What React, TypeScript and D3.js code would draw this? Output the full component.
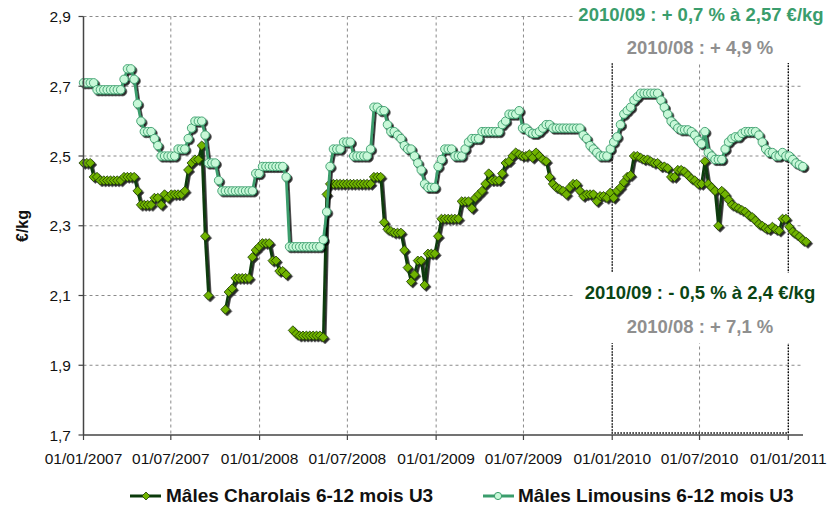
import React from 'react';
import * as d3 from 'd3';

// ---- DATA ----
const startWeek = '2007-01-01';
const seriesNames = ['Mâles Charolais 6-12 mois U3', 'Mâles Limousins 6-12 mois U3'];

// Weekly prices (€/kg), null = missing week
const charolais: (number | null)[] = [
  2.48, 2.48, 2.48, 2.44, 2.44, 2.43, 2.43, 2.43, 2.43, 2.43,
  2.43, 2.43, 2.44, 2.44, 2.44, 2.44, 2.40, 2.36, 2.36, 2.36,
  2.36, 2.38, 2.38, 2.36, 2.39, 2.38, 2.39, 2.39, 2.39, 2.39,
  2.40, 2.46, 2.48, 2.49, 2.49, 2.53, 2.27, 2.10, null, null,
  null, null, 2.06, 2.11, 2.12, 2.15, 2.15, 2.15, 2.15, 2.15,
  2.21, 2.23, 2.24, 2.25, 2.25, 2.25, 2.20, 2.20, 2.17, 2.17,
  2.16, null, 2.00, 1.99, 1.985, 1.985, 1.985, 1.985, 1.985, 1.985,
  1.985, 1.98, 2.39, 2.42, 2.42, 2.42, 2.42, 2.42, 2.42, 2.42,
  2.42, 2.42, 2.42, 2.42, 2.42, 2.42, 2.44, 2.44, 2.44, 2.31,
  2.29, 2.285, 2.28, 2.28, 2.28, 2.23, 2.18, 2.14, 2.16, 2.20,
  2.20, 2.13, 2.22, 2.22, 2.22, 2.27, 2.32, 2.32, 2.32, 2.32,
  2.32, 2.32, 2.37, 2.37, 2.37, 2.35, 2.38, 2.39, 2.40, 2.42,
  2.45, 2.43, 2.43, 2.43, 2.45, 2.48, 2.485, 2.50, 2.51, 2.505,
  2.50, 2.50, 2.505, 2.495, 2.51, 2.50, 2.49, 2.485, 2.44, 2.42,
  2.41, 2.405, 2.40, 2.39, 2.41, 2.42, 2.42, 2.40, 2.385, 2.39,
  2.39, 2.39, 2.37, 2.385, 2.385, 2.38, 2.395, 2.38, 2.40, 2.41,
  2.425, 2.44, 2.445, 2.50, 2.50, 2.495, 2.49, 2.49, 2.485, 2.48,
  2.48, 2.47, 2.47, 2.465, 2.44, 2.44, 2.46, 2.46, 2.455, 2.445,
  2.435, 2.43, 2.42, 2.42, 2.485, 2.42, 2.41, 2.40, 2.30, 2.40,
  2.39, 2.375, 2.36, 2.355, 2.35, 2.345, 2.34, 2.33, 2.325, 2.315,
  2.305, 2.30, 2.293, 2.29, 2.297, 2.29, 2.286, 2.32, 2.32, 2.297,
  2.283, 2.276, 2.269, 2.259, 2.254,
];

const limousin: (number | null)[] = [
  2.71, 2.71, 2.71, 2.71, 2.69, 2.69, 2.69, 2.69, 2.69, 2.69,
  2.69, 2.69, 2.72, 2.75, 2.75, 2.72, 2.65, 2.60, 2.57, 2.57,
  2.57, 2.55, 2.53, 2.50, 2.50, 2.50, 2.50, 2.50, 2.52, 2.52,
  2.52, 2.55, 2.58, 2.60, 2.60, 2.60, 2.56, 2.48, 2.48, 2.48,
  2.43, 2.40, 2.40, 2.40, 2.40, 2.40, 2.40, 2.40, 2.40, 2.40,
  2.40, 2.45, 2.45, 2.47, 2.47, 2.47, 2.47, 2.47, 2.47, 2.47,
  2.44, 2.24, 2.24, 2.24, 2.24, 2.24, 2.24, 2.24, 2.24, 2.24,
  2.24, 2.26, 2.34, 2.47, 2.52, 2.52, 2.52, 2.54, 2.54, 2.54,
  2.50, 2.50, 2.50, 2.50, 2.50, 2.52, 2.64, 2.64, 2.63, 2.63,
  2.59, 2.57, 2.57, 2.56, 2.55, 2.53, 2.52, 2.52, 2.50, 2.48,
  2.46, 2.42, 2.41, 2.41, 2.41, 2.47, 2.49, 2.52, 2.52, 2.52,
  2.50, 2.50, 2.50, 2.52, 2.54, 2.55, 2.55, 2.55, 2.57, 2.57,
  2.57, 2.57, 2.57, 2.57, 2.59, 2.60, 2.62, 2.62, 2.62, 2.63,
  2.58, 2.58, 2.57, 2.565, 2.565, 2.57, 2.58, 2.59, 2.59, 2.58,
  2.58, 2.58, 2.58, 2.58, 2.58, 2.58, 2.58, 2.58, 2.56, 2.55,
  2.53, 2.52, 2.51, 2.50, 2.50, 2.50, 2.52, 2.54, 2.555, 2.59,
  2.62, 2.63, 2.64, 2.66, 2.67, 2.68, 2.68, 2.68, 2.68, 2.68,
  2.68, 2.66, 2.64, 2.62, 2.60, 2.59, 2.58, 2.575, 2.575, 2.575,
  2.57, 2.56, 2.545, 2.535, 2.57, 2.51, 2.50, 2.49, 2.49, 2.49,
  2.52, 2.54, 2.55, 2.555, 2.555, 2.565, 2.57, 2.57, 2.57, 2.57,
  2.56, 2.54, 2.52, 2.51, 2.51, 2.50, 2.50, 2.51, 2.50, 2.50,
  2.49, 2.48, 2.475, 2.47,
];

const yTicks = [1.7, 1.9, 2.1, 2.3, 2.5, 2.7, 2.9];
const xTickDates = ['2007-01-01', '2007-07-01', '2008-01-01', '2008-07-01', '2009-01-01', '2009-07-01', '2010-01-01', '2010-07-01', '2011-01-01'];
const xTickLabels = ['01/01/2007', '01/07/2007', '01/01/2008', '01/07/2008', '01/01/2009', '01/07/2009', '01/01/2010', '01/07/2010', '01/01/2011'];
const highlightPeriod = ['2010-01-01', '2011-01-01'];
const limousinNotes = ['2010/09 : + 0,7 % à 2,57 €/kg', '2010/08 : + 4,9 %'];
const charolaisNotes = ['2010/09 : - 0,5 % à 2,4 €/kg', '2010/08 : + 7,1 %'];
const yTitle = '€/kg';

// ---- STYLE ----
const FONT = '"Liberation Sans", Arial, Helvetica, sans-serif';
const C_DARK = '#0a3a0a';
const C_DIAMOND = '#6fb300';
const C_LIMO = '#3a9d6c';
const C_CIRCLE = '#c8f8d8';
const C_GRAY_TXT = '#8f8f8f';

const parse = d3.timeParse('%Y-%m-%d');

type Pt = { d: Date; v: number | null };

export default function App() {
  const left = 83.5, right = 803, top = 16.5, bottom = 435;
  const start = parse(startWeek)!;
  const x = d3.scaleTime().domain([parse('2007-01-01')!, parse('2011-01-01')!]).range([left, 788.3]);
  const y = d3.scaleLinear().domain([1.7, 2.9]).range([bottom, top]);

  const toPts = (arr: (number | null)[]): Pt[] => arr.map((v, i) => ({ d: d3.timeDay.offset(start, 7 * i), v }));
  const cPts = toPts(charolais);
  const lPts = toPts(limousin);

  const line = d3.line<Pt>().defined(p => p.v != null).x(p => x(p.d)).y(p => y(p.v as number));

  const diamond = (s: number) => `M0,${-s}L${s},0L0,${s}L${-s},0Z`;

  const hx0 = x(parse(highlightPeriod[0])!);
  const hx1 = x(parse(highlightPeriod[1])!);

  return (
    <svg width={830} height={510} style={{ position: 'absolute', left: 0, top: 0, background: '#fff' }} fontFamily={FONT}>
      <defs>
        <filter id="shadow" filterUnits="userSpaceOnUse" x={0} y={0} width={830} height={510}>
          <feDropShadow dx={1.8} dy={1.8} stdDeviation={0.6} floodColor="#000" floodOpacity={0.85} />
        </filter>
      </defs>
      <rect x={0} y={0} width={830} height={510} fill="#fff" />

      {/* grid */}
      {yTicks.slice(1).map(t => (
        <line key={'gy' + t} x1={left} x2={right} y1={y(t)} y2={y(t)} stroke="#8a8a8a" strokeDasharray="3,3" strokeWidth={1} />
      ))}
      {xTickDates.slice(1).map(t => (
        <line key={'gx' + t} x1={x(parse(t)!)} x2={x(parse(t)!)} y1={top} y2={bottom} stroke="#8a8a8a" strokeDasharray="3,3" strokeWidth={1} />
      ))}

      {/* highlight box */}
      <rect x={hx0} y={top} width={hx1 - hx0} height={bottom - 2 - top} fill="none" stroke="#000" strokeWidth={1.3} strokeDasharray="1.5,1.5" />

      {/* annotation backgrounds */}
      <rect x={573} y={0} width={257} height={63} fill="#fff" />
      <rect x={573} y={273} width={257} height={70} fill="#fff" />

      {/* series */}
      <g filter="url(#shadow)">
        <path d={line(cPts) || ''} fill="none" stroke={C_DARK} strokeWidth={2.6} strokeLinejoin="round" />
        {cPts.filter(p => p.v != null).map((p, i) => (
          <path key={'c' + i} d={diamond(4.6)} transform={`translate(${x(p.d)},${y(p.v as number)})`} fill={C_DIAMOND} stroke="#1c3a00" strokeWidth={0.8} />
        ))}
      </g>
      <g filter="url(#shadow)">
        <path d={line(lPts) || ''} fill="none" stroke={C_LIMO} strokeWidth={2.6} strokeLinejoin="round" />
        {lPts.filter(p => p.v != null).map((p, i) => (
          <circle key={'l' + i} cx={x(p.d)} cy={y(p.v as number)} r={4.2} fill={C_CIRCLE} stroke={C_LIMO} strokeWidth={0.9} />
        ))}
      </g>

      {/* axes */}
      <line x1={left} x2={left} y1={top} y2={bottom} stroke="#444" strokeWidth={1.5} />
      <line x1={left} x2={right} y1={bottom} y2={bottom} stroke="#444" strokeWidth={1.5} />
      {yTicks.map(t => (
        <g key={'ty' + t}>
          <line x1={left - 5} x2={left} y1={y(t)} y2={y(t)} stroke="#444" strokeWidth={1.2} />
          <text x={71} y={y(t)} dy="0.36em" textAnchor="end" fontSize={15.5} fill="#111">{t.toFixed(1).replace('.', ',')}</text>
        </g>
      ))}
      {xTickDates.map((t, i) => (
        <g key={'tx' + t}>
          <line x1={x(parse(t)!)} x2={x(parse(t)!)} y1={bottom} y2={bottom + 5} stroke="#444" strokeWidth={1.2} />
          <text x={x(parse(t)!)} y={464} textAnchor="middle" fontSize={15.5} fill="#111">{xTickLabels[i]}</text>
        </g>
      ))}
      <text transform={`translate(28,226) rotate(-90)`} textAnchor="middle" fontSize={16} fontWeight="bold" fill="#111">{yTitle}</text>

      {/* annotations */}
      <text x={701} y={21} textAnchor="middle" fontSize={18.5} fontWeight="bold" fill={C_LIMO}>{limousinNotes[0]}</text>
      <text x={700} y={54} textAnchor="middle" fontSize={18.5} fontWeight="bold" fill={C_GRAY_TXT}>{limousinNotes[1]}</text>
      <text x={700} y={299} textAnchor="middle" fontSize={18.5} fontWeight="bold" fill="#0a4514">{charolaisNotes[0]}</text>
      <text x={700} y={333} textAnchor="middle" fontSize={18.5} fontWeight="bold" fill={C_GRAY_TXT}>{charolaisNotes[1]}</text>

      {/* legend */}
      <g>
        <line x1={130} x2={161} y1={496} y2={496} stroke={C_DARK} strokeWidth={3} />
        <path d={diamond(4)} transform="translate(146,496)" fill={C_DIAMOND} stroke="#1c3a00" strokeWidth={0.8} />
        <text x={166} y={502} fontSize={19} fontWeight="bold" fill="#111">{seriesNames[0]}</text>
        <line x1={483} x2={514} y1={496} y2={496} stroke={C_LIMO} strokeWidth={3} />
        <circle cx={498} cy={496} r={3.6} fill={C_CIRCLE} stroke={C_LIMO} strokeWidth={1} />
        <text x={518} y={502} fontSize={19} fontWeight="bold" fill="#111">{seriesNames[1]}</text>
      </g>
    </svg>
  );
}
